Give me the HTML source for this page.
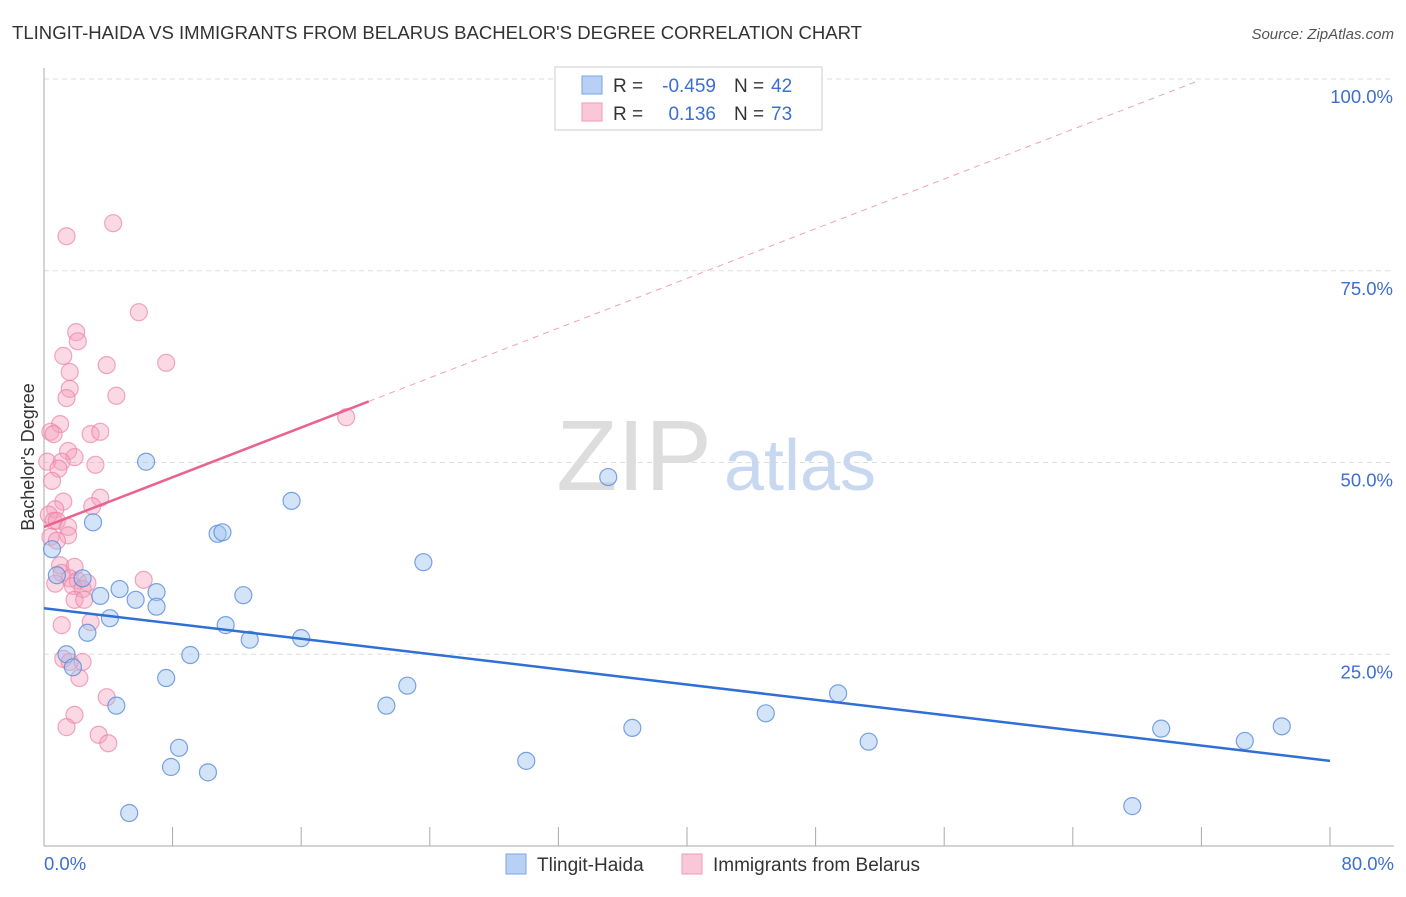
<!DOCTYPE html>
<html><head><meta charset="utf-8"><style>
body{margin:0;background:#fff;font-family:"Liberation Sans",sans-serif;}
svg text{font-family:"Liberation Sans",sans-serif;white-space:pre;}
</style></head><body>
<svg id="c" width="1406" height="892" viewBox="0 0 1406 892">
<text x="12" y="39" font-size="18" fill="#333" textLength="850" lengthAdjust="spacingAndGlyphs">TLINGIT-HAIDA VS IMMIGRANTS FROM BELARUS BACHELOR'S DEGREE CORRELATION CHART</text>
<text x="1394" y="39" font-size="15" fill="#555" text-anchor="end" font-style="italic">Source: ZipAtlas.com</text>
<text x="34" y="457" font-size="18" fill="#333" text-anchor="middle" transform="rotate(-90 34 457)">Bachelor's Degree</text>
<g id="grid"></g>
<text x="634" y="490" font-size="100" fill="#ddd" font-family="Liberation Serif" text-anchor="middle">ZIP</text>
<text x="800" y="490" font-size="72" fill="#c8d8f0" text-anchor="middle">atlas</text>
<g id="axes"></g>
<g id="marks"></g>
<g>
<rect x="555" y="67" width="267" height="63" fill="#fff" stroke="#ccc"/>
<rect x="582" y="76" width="20" height="18" fill="#b8d0f4" stroke="#7aa6e6"/>
<rect x="582" y="103" width="20" height="18" fill="#f8c8d8" stroke="#f09ab8"/>
<text x="613" y="92" font-size="19" fill="#333">R =</text>
<text x="716" y="92" font-size="19" fill="#3b6fd0" text-anchor="end">-0.459</text>
<text x="734" y="92" font-size="19" fill="#333">N =</text>
<text x="771" y="92" font-size="19" fill="#3b6fd0">42</text>
<text x="613" y="120" font-size="19" fill="#333">R =</text>
<text x="716" y="120" font-size="19" fill="#3b6fd0" text-anchor="end">0.136</text>
<text x="734" y="120" font-size="19" fill="#333">N =</text>
<text x="771" y="120" font-size="19" fill="#3b6fd0">73</text>
</g>
<g>
<rect x="506" y="854" width="20" height="20" fill="#b8d0f4" stroke="#7aa6e6"/>
<text x="537" y="871" font-size="19" fill="#333">Tlingit-Haida</text>
<rect x="682" y="854" width="20" height="20" fill="#f8c8d8" stroke="#f09ab8"/>
<text x="713" y="871" font-size="19" fill="#333">Immigrants from Belarus</text>
</g>
</svg>
<script>
const xTicks=[0,8,16,24,32,40,48,56,64,72,80];
const yTicks=[25,50,75,100];
const yTickLabels=["25.0%","50.0%","75.0%","100.0%"];
const blueX=[6.35,35.1,15.4,3.05,10.8,11.1,23.6,0.8,2.4,4.7,3.5,7.0,5.7,7.0,12.4,4.1,11.3,2.7,12.8,16.0,9.1,1.4,1.8,7.6,22.6,21.3,4.5,49.4,44.9,36.6,8.4,51.3,7.9,10.2,30.0,69.5,74.7,77.0,67.7,5.3,0.5];
const blueY=[50.1,48.1,45.0,42.2,40.7,40.9,37.0,35.3,34.9,33.5,32.6,33.1,32.1,31.2,32.7,29.7,28.8,27.8,26.9,27.1,24.9,25.0,23.3,21.9,20.9,18.3,18.3,19.9,17.3,15.4,12.8,13.6,10.3,9.6,11.1,15.3,13.7,15.6,5.2,4.3,38.7];
const pinkX=[4.3,1.4,5.9,2.0,2.1,1.2,3.9,7.6,1.6,1.6,4.5,1.4,18.8,1.0,0.4,0.6,2.9,3.5,1.5,1.9,0.2,1.1,3.2,0.9,0.5,1.2,3.5,3.0,0.7,0.3,0.6,0.8,1.5,1.5,0.4,0.8,1.0,1.9,1.1,1.6,2.1,2.7,6.2,0.7,1.8,2.4,1.9,2.5,1.1,2.9,1.2,1.6,2.4,2.2,3.9,1.9,1.4,3.4,4.0];
const pinkY=[81.2,79.5,69.6,67.0,65.8,63.9,62.7,63.0,61.8,59.6,58.7,58.4,55.9,55.0,54.0,53.7,53.7,54.0,51.5,50.7,50.1,50.1,49.7,49.2,47.6,44.9,45.4,44.3,43.9,43.2,42.4,42.4,41.6,40.5,40.3,39.8,36.6,36.4,35.6,34.9,34.6,34.3,34.7,34.2,33.9,33.5,32.1,32.1,28.8,29.2,24.4,24.0,24.0,21.9,19.4,17.1,15.5,14.5,13.4];
const blueTrend=[31.0,11.1];   // y at x=0 and x=80
const pinkTrend=[41.6,0.81];   // intercept, slope
const pinkSolidEnd=20.2, pinkDashEnd=71.6;
const X=v=>44+v/80*1286, Y=v=>846-v/100*767;
const NS="http://www.w3.org/2000/svg";
function mk(p,t,a){const e=document.createElementNS(NS,t);for(const k in a)e.setAttribute(k,a[k]);p.appendChild(e);return e;}
const grid=document.getElementById('grid'),axes=document.getElementById('axes'),marks=document.getElementById('marks');
yTicks.forEach((t,i)=>{
 const l=mk(grid,'line',{x1:44,x2:1394,y1:Y(t),y2:Y(t),stroke:'#ddd','stroke-dasharray':'5,4'});
 
 
 const tx=mk(axes,'text',{x:1393,y:Y(t)+24,'font-size':18.5,fill:'#3b6fd0','text-anchor':'end'});
 tx.textContent=yTickLabels[i];
 
 
});
mk(axes,'line',{x1:44,x2:44,y1:68,y2:846,stroke:'#aaa'});
mk(axes,'line',{x1:44,x2:1394,y1:846,y2:846,stroke:'#aaa'});
xTicks.forEach(t=>{const l=mk(axes,'line',{x1:X(t),x2:X(t),y1:827,y2:846,stroke:'#aaa'});
 
 });
const xl0=mk(axes,'text',{x:44,y:870,'font-size':18.5,fill:'#3b6fd0'});xl0.textContent='0.0%';


const xl1=mk(axes,'text',{x:1394,y:870,'font-size':18.5,fill:'#3b6fd0','text-anchor':'end'});xl1.textContent='80.0%';


pinkX.forEach((x,i)=>{const c=mk(marks,'circle',{cx:X(x),cy:Y(pinkY[i]),r:8.5,fill:'rgba(244,160,188,0.4)',stroke:'rgba(236,130,165,0.7)','stroke-width':1.2});
 
 });
blueX.forEach((x,i)=>{const c=mk(marks,'circle',{cx:X(x),cy:Y(blueY[i]),r:8.5,fill:'rgba(160,196,240,0.45)',stroke:'rgba(90,140,220,0.8)','stroke-width':1.2});
 
 });
const bl=mk(marks,'line',{x1:X(0),y1:Y(blueTrend[0]),x2:X(80),y2:Y(blueTrend[1]),stroke:'#2f6fd6','stroke-width':2.5});


const pf=x=>pinkTrend[0]+pinkTrend[1]*x;
const pd=mk(marks,'line',{x1:X(pinkSolidEnd),y1:Y(pf(pinkSolidEnd)),x2:X(pinkDashEnd),y2:Y(pf(pinkDashEnd)),stroke:'#f0a0bc','stroke-width':1,'stroke-dasharray':'6,5'});


const ps=mk(marks,'line',{x1:X(0),y1:Y(pf(0)),x2:X(pinkSolidEnd),y2:Y(pf(pinkSolidEnd)),stroke:'#e8648e','stroke-width':2.5});


</script>
</body></html>
